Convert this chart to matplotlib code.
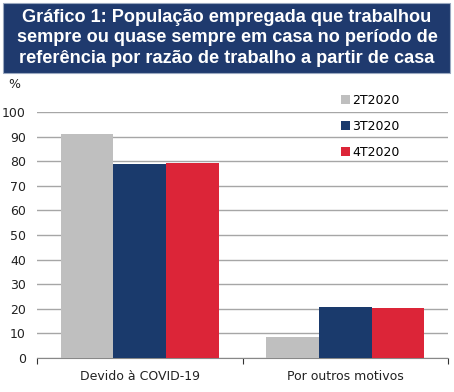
import matplotlib
matplotlib.use("Agg")
import matplotlib.pyplot as plt
import numpy as np
from matplotlib.patches import Rectangle

categories = ["Devido à COVID-19", "Por outros motivos"]
series = ["2T2020", "3T2020", "4T2020"]
values = {
    "2T2020": [91.0, 8.6],
    "3T2020": [79.0, 20.8],
    "4T2020": [79.4, 20.4],
}
colors = ["#BFBFBF", "#1A3A6C", "#DC2538"]
yticks = list(range(0, 101, 10))

W, H = 454, 392
fig = plt.figure(figsize=(W/100, H/100), dpi=100)

# Title box
fig.patches.append(Rectangle((3/W, 1-73/H), 447/W, 70/H, transform=fig.transFigure,
                             facecolor="#1F3A6E", edgecolor="#9aa8c0", lw=0.8))
fig.text(0.5, 1-38/H, "Gráfico 1: População empregada que trabalhou\nsempre ou quase sempre em casa no período de\nreferência por razão de trabalho a partir de casa",
         ha="center", va="center", color="white", fontsize=13.1, fontweight="bold",
         linespacing=1.3, family="Liberation Sans")

ax = fig.add_axes([37/W, 1-358/H, 411/W, 246/H])
x = np.arange(len(categories))
bw = 0.256
for i, s in enumerate(series):
    ax.bar(x + (i-1)*bw, values[s], bw, color=colors[i], label=s, zorder=3)

ax.set_xlim(-0.5, 1.5)
ax.set_ylim(0, 100)
ax.set_yticks(yticks)
ax.set_yticklabels([str(t) for t in yticks], fontsize=9, color="#222222")
ax.yaxis.grid(True, color="#a6a6a6", lw=1.0, zorder=0)
ax.tick_params(axis="y", length=0, pad=8)
for sp in ["top", "right", "left"]:
    ax.spines[sp].set_visible(False)
ax.spines["bottom"].set_color("#888888")
ax.set_xticks([-0.5, 0.5, 1.5])
ax.set_xticklabels([])
ax.tick_params(axis="x", length=4, color="#333333", direction="out")
ax.set_xticks(x, minor=True)
ax.set_xticklabels(categories, minor=True, fontsize=9, color="#222222")
ax.tick_params(axis="x", which="minor", length=0, pad=9)

fig.text(8/W, 1-85/H, "%", fontsize=9, color="#222222", va="center")

leg = ax.legend(loc="upper right", bbox_to_anchor=(0.91, 1.12), frameon=False,
                fontsize=9, handlelength=0.7, handleheight=0.7, handletextpad=0.2,
                labelspacing=1.05, borderpad=0.4)

fig.savefig("out.png", dpi=100)
